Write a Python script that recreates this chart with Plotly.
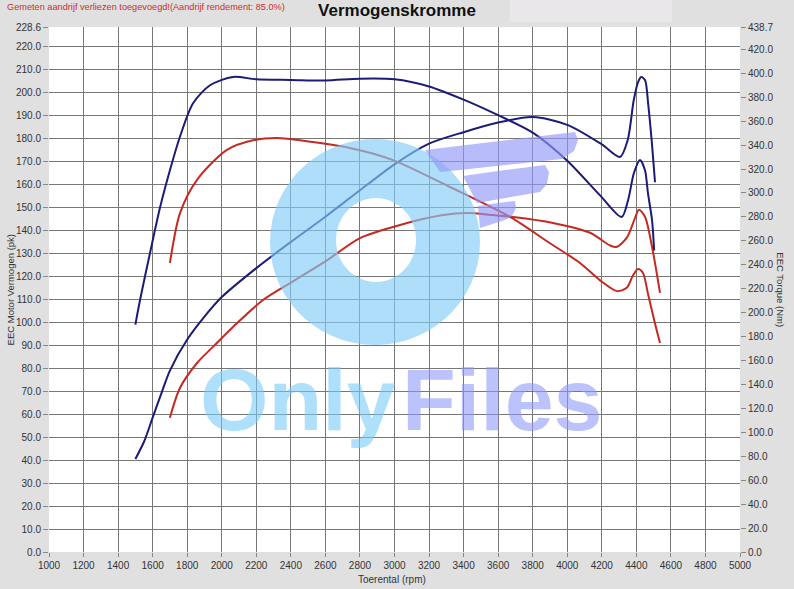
import numpy as np
import plotly.graph_objects as go

# -------------------------------------------------------
# Data (rpm / pk / Nm)
# -------------------------------------------------------
# blue set (power on left axis, torque on right axis)
rpm_blue_pk = [1500, 1550, 1600, 1650, 1700, 1800, 1900, 2000, 2200, 2400, 2600,
               2800, 3000, 3200, 3400, 3600, 3800, 4000, 4200, 4305, 4350, 4385,
               4410, 4428, 4450, 4468, 4490, 4508]
blue_pk = [40.5, 48.0, 58.5, 69.0, 79.0, 92.5, 102.5, 111.0, 123.6, 135.0, 146.0,
           157.5, 168.8, 177.8, 182.8, 187.0, 189.4, 186.0, 177.5, 172.0, 179.4, 196.8,
           204.6, 206.8, 205.5, 195.5, 178.0, 161.0]

rpm_blue_nm = [1500, 1527, 1585, 1643, 1700, 1758, 1834, 1932, 2065, 2200, 2400,
               2600, 2800, 3000, 3200, 3400, 3600, 3800, 4000, 4190, 4315, 4352,
               4386, 4421, 4450, 4467, 4491, 4503]
blue_nm = [190.0, 210.6, 250.0, 288.0, 319.0, 347.0, 375.0, 390.0, 397.0, 395.0, 394.5,
           394.0, 395.5, 395.0, 389.0, 378.0, 365.0, 350.5, 327.0, 298.0, 280.0, 294.0,
           316.7, 327.6, 319.0, 300.0, 277.0, 252.0]

# red set
rpm_red_pk = [1700, 1758, 1857, 1949, 2065, 2239, 2400, 2609, 2800, 3032, 3281,
              3420, 3570, 3686, 3918, 4132, 4247, 4285, 4346, 4392, 4415, 4450,
              4491, 4537]
red_pk = [58.5, 71.4, 82.3, 89.3, 98.0, 109.7, 117.3, 127.0, 136.7, 142.4, 146.7,
          147.6, 146.7, 145.9, 143.3, 139.0, 133.5, 132.8, 137.0, 145.4, 149.0, 146.0,
          132.8, 112.8]

rpm_red_nm = [1700, 1758, 1857, 2030, 2181, 2320, 2453, 2742, 2991, 3321, 3669,
              3900, 4074, 4190, 4288, 4346, 4380, 4410, 4439, 4467, 4508, 4537]
red_nm = [241.5, 283.0, 311.0, 336.0, 344.0, 346.0, 344.0, 337.6, 327.5, 305.0, 280.0,
          258.0, 241.5, 227.0, 218.0, 221.0, 231.0, 236.5, 233.0, 216.0, 191.0, 174.6]

x_ticks = list(range(1000, 5001, 200))
pk_ticks = [v * 10 for v in range(23)] + [228.6]
nm_ticks = [v * 20 for v in range(22)] + [438.7]

NAVY = "#1b1b78"
RED = "#c42a22"
FONT = "Liberation Sans, Arial, sans-serif"


# =======================================================
# watermark helpers (pixel -> data units)
# =======================================================
def px(xp):
    return 1000 + (xp - 49) / 0.17275


def py(yp):
    return (552 - yp) / 2.2966


def ellipse(cx, cy, rx, ry, n=60):
    t = np.linspace(0, 2 * np.pi, n, endpoint=False)
    pts = [f"{px(cx + rx * np.cos(a)):.1f},{py(cy + ry * np.sin(a)):.2f}" for a in t]
    return "M " + " L ".join(pts) + " Z"


def poly(points):
    pts = [f"{px(a):.1f},{py(b):.2f}" for a, b in points]
    return "M " + " L ".join(pts) + " Z"


fig = go.Figure()

fig.add_trace(go.Scatter(x=rpm_blue_nm, y=blue_nm, yaxis="y2", mode="lines",
                         line=dict(color=NAVY, width=2, shape="spline", smoothing=0.8)))
fig.add_trace(go.Scatter(x=rpm_blue_pk, y=blue_pk, mode="lines",
                         line=dict(color=NAVY, width=2, shape="spline", smoothing=0.8)))
fig.add_trace(go.Scatter(x=rpm_red_nm, y=red_nm, yaxis="y2", mode="lines",
                         line=dict(color=RED, width=2, shape="spline", smoothing=0.8)))
fig.add_trace(go.Scatter(x=rpm_red_pk, y=red_pk, mode="lines",
                         line=dict(color=RED, width=2, shape="spline", smoothing=0.8)))

# watermark: ring + wings
ring = ellipse(375, 242, 105, 103) + " " + ellipse(376, 240, 40, 42)
wings = [
    [(425, 150), (500, 141), (575, 132), (578, 140), (574, 151), (562, 159), (460, 170), (440, 172)],
    [(463, 176), (505, 170), (545, 165), (549, 172), (547, 184), (540, 192), (477, 203)],
    [(478, 206), (498, 203), (515, 201), (516, 208), (512, 216), (505, 220), (480, 228)],
]
shapes = [dict(type="path", path=ring, xref="x", yref="y", layer="above",
               fillcolor="rgb(131,205,248)", opacity=0.65, line=dict(width=0))]
for w in wings:
    shapes.append(dict(type="path", path=poly(w), xref="x", yref="y", layer="above",
                       fillcolor="rgb(146,152,248)", opacity=0.65, line=dict(width=0)))
# light box at the top right of the header
shapes.append(dict(type="rect", xref="paper", yref="paper", x0=0.667, x1=0.9016,
                   y0=1.0095, y1=1.0514, fillcolor="#e9e7e9", line=dict(width=0)))

wm_font = "Liberation Sans, Arial, sans-serif"
annotations = [
    dict(text="<b>Only</b>", x=px(298), y=py(399), xref="x", yref="y", showarrow=False,
         font=dict(family=wm_font, size=88, color="rgba(120,203,248,0.6)")),
    dict(text="<b>Files</b>", x=px(502), y=py(399), xref="x", yref="y", showarrow=False,
         font=dict(family=wm_font, size=88, color="rgba(143,153,248,0.6)")),
    dict(text="Gemeten aandrijf verliezen toegevoegd!(Aandrijf rendement: 85.0%)",
         x=-0.064, y=1.038, xref="paper", yref="paper", xanchor="left", yanchor="middle",
         showarrow=False, font=dict(family=FONT, size=9.2, color="#d02c2c")),
    dict(text="EEC Motor Vermogen (pk)", x=-0.066, y=0.5, xref="paper", yref="paper",
         textangle=-90, showarrow=False, font=dict(family=FONT, size=9.5, color="#333")),
    dict(text="EEC Torque (Nm)", x=1.069, y=0.5, xref="paper", yref="paper",
         textangle=90, showarrow=False, font=dict(family=FONT, size=9.5, color="#333")),
    dict(text="Toerental (rpm)", x=0.497, y=-0.066, xref="paper", yref="paper",
         showarrow=False, font=dict(family=FONT, size=10, color="#333")),
]

axis_common = dict(ticks="outside", tickcolor="#888", ticklen=5, zeroline=False,
                   showline=False, tickfont=dict(family=FONT, size=10, color="#333"))

fig.update_layout(
    width=794, height=589,
    margin=dict(l=49, r=54, t=27, b=37),
    paper_bgcolor="#e0e0e0",
    plot_bgcolor="#ffffff",
    showlegend=False,
    title=dict(text="<b>Vermogenskromme</b>", x=0.5, xref="container", xanchor="center",
               y=0.983, yref="container", yanchor="middle",
               font=dict(family=FONT, size=17, color="#111")),
    xaxis=dict(range=[1000, 5000], tickvals=x_ticks, showgrid=True,
               gridcolor="#777", gridwidth=1, **{**axis_common, "ticklen": 4}),
    yaxis=dict(range=[0, 228.6], tickvals=pk_ticks, ticktext=[f"{v:.1f}" for v in pk_ticks],
               showgrid=True, gridcolor="#777", gridwidth=1, **axis_common),
    yaxis2=dict(range=[0, 438.7], tickvals=nm_ticks, ticktext=[f"{v:.1f}" for v in nm_ticks],
                overlaying="y", side="right", showgrid=False, **axis_common),
    shapes=shapes,
    annotations=annotations,
)

# page body margin off so the figure sits at the window's top-left corner
fig.write_html("out.html", config={"displayModeBar": False},
               post_script="document.body.style.margin='0px';")
